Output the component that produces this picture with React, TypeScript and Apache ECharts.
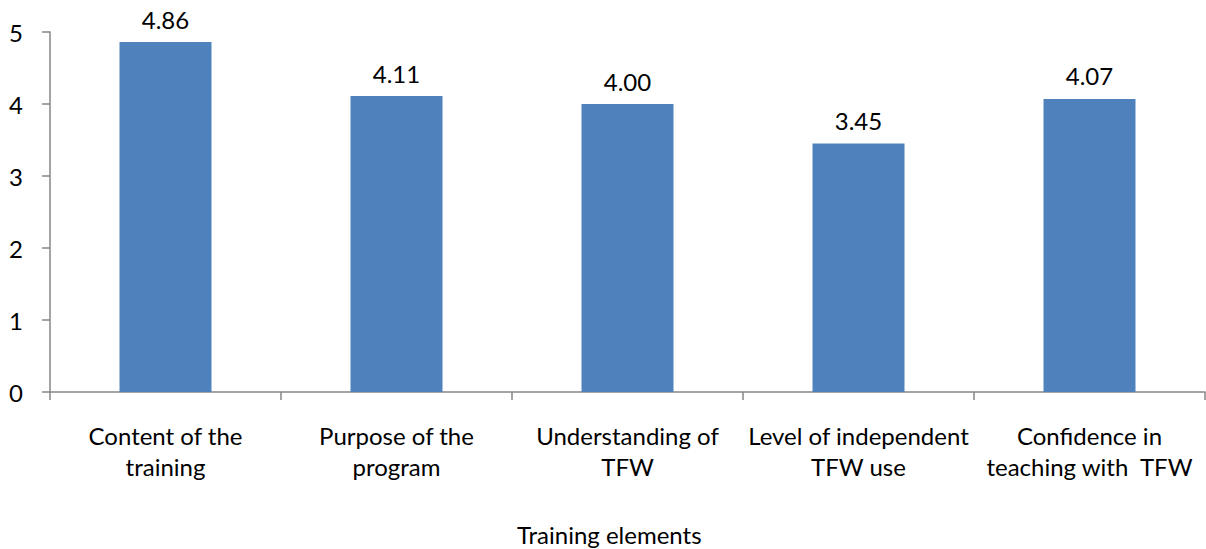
import React, { useEffect, useRef } from "react";
import * as echarts from "echarts";

const categories = [
  "Content of the\ntraining",
  "Purpose of the\nprogram",
  "Understanding of\nTFW",
  "Level of independent\nTFW use",
  "Confidence in\nteaching with  TFW",
];
const values = [4.86, 4.11, 4.0, 3.45, 4.07];
const xAxisTitle = "Training elements";
const FONT = "Lato, 'Open Sans', sans-serif";
const FS = 24;

export default function App() {
  const ref = useRef<HTMLDivElement>(null);
  useEffect(() => {
    if (!ref.current) return;
    const chart = echarts.init(ref.current, null, { renderer: "svg" });
    chart.setOption({
      animation: false,
      backgroundColor: "#ffffff",
      grid: { left: 50, right: 1, top: 32, bottom: 157, containLabel: false },
      xAxis: {
        type: "category",
        data: categories,
        axisLine: { lineStyle: { color: "#868686", width: 1.5 } },
        axisTick: { show: true, length: 8, lineStyle: { color: "#868686", width: 1.5 } },
        axisLabel: {
          color: "#000",
          fontFamily: FONT,
          fontSize: FS,
          lineHeight: 31,
          margin: 28,
          interval: 0,
        },
      },
      yAxis: {
        type: "value",
        min: 0,
        max: 5,
        interval: 1,
        splitLine: { show: false },
        axisLine: { show: true, lineStyle: { color: "#868686", width: 1.5 } },
        axisTick: { show: true, length: 8, lineStyle: { color: "#868686", width: 1.5 } },
        axisLabel: { color: "#000", fontFamily: FONT, fontSize: FS, margin: 27 },
      },
      series: [
        {
          type: "bar",
          data: values,
          barWidth: 92,
          itemStyle: { color: "#4F81BD" },
          label: {
            show: true,
            position: "top",
            distance: 11,
            color: "#000",
            fontFamily: FONT,
            fontSize: FS,
            formatter: (p: any) => Number(p.value).toFixed(2),
          },
        },
      ],
      graphic: [
        {
          type: "text",
          left: 517,
          top: 522,
          style: { text: xAxisTitle, fill: "#000", font: `${FS}px ${FONT}` },
        },
      ],
    });
    return () => chart.dispose();
  }, []);
  return (
    <div
      ref={ref}
      style={{ position: "fixed", left: 0, top: 0, width: 1206, height: 549 }}
    />
  );
}
